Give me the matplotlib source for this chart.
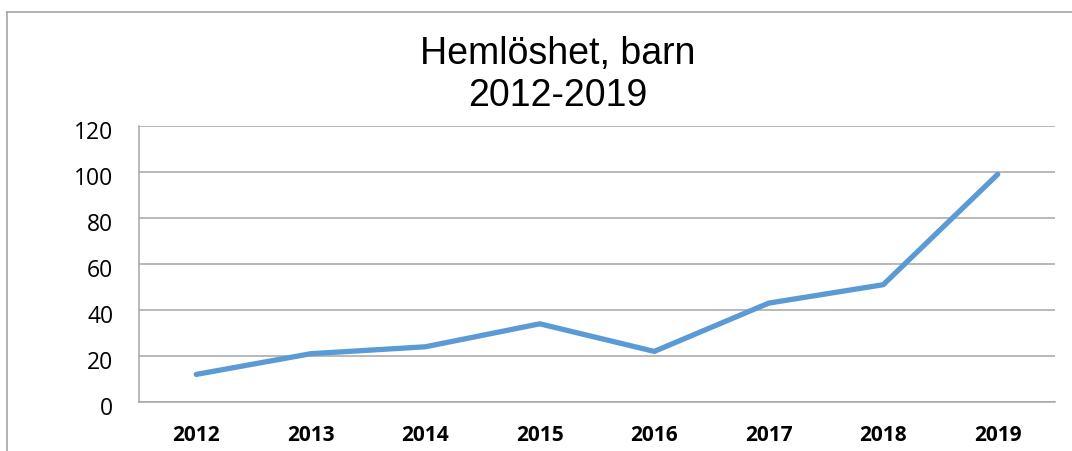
import matplotlib
matplotlib.use("Agg")
import matplotlib.pyplot as plt
import matplotlib.transforms as mtransforms
from matplotlib.lines import Line2D

years = ["2012", "2013", "2014", "2015", "2016", "2017", "2018", "2019"]
values = [12, 21, 24, 34, 22, 43, 51, 99]
yticks = [0, 20, 40, 60, 80, 100, 120]
title = "Hemlöshet, barn\n2012-2019"

W, H = 1072, 452
fig = plt.figure(figsize=(W / 100, H / 100), dpi=100)
fig.patch.set_facecolor("white")

# outer chart frame (partly cut off on right and bottom)
fig.add_artist(Line2D([7 / W, 7 / W], [0, 1 - 13 / H], transform=fig.transFigure,
                      color="#A6A6A6", lw=1.2))
fig.add_artist(Line2D([7 / W, 1], [1 - 13 / H, 1 - 13 / H], transform=fig.transFigure,
                      color="#A6A6A6", lw=1.2))

left, right, bottom, top = 139 / W, 1055 / W, (H - 403) / H, (H - 127) / H
ax = fig.add_axes([left, bottom, right - left, top - bottom])

x = list(range(len(years)))
ax.plot(x, values, color="#5B9BD5", lw=3.8, solid_capstyle="round", solid_joinstyle="round", zorder=3)

ax.set_xlim(-0.5, len(years) - 0.5)
ax.set_ylim(0, 120)
ax.set_yticks(yticks)
ax.set_yticklabels([str(v) for v in yticks], fontsize=16.5, family="Open Sans")
ax.set_xticks(x)
ax.set_xticklabels(years, fontsize=15, fontweight="bold", family="Open Sans")
ax.tick_params(axis="both", length=0)
ax.tick_params(axis="y", pad=18.5)
ax.tick_params(axis="x", pad=16)

offset = mtransforms.ScaledTranslation(0, -3 / 100, fig.dpi_scale_trans)
for lbl in ax.get_yticklabels():
    lbl.set_transform(lbl.get_transform() + offset)

ax.grid(axis="y", color="#A6A6A6", lw=1.1)
ax.set_axisbelow(True)
for s in ["top", "right"]:
    ax.spines[s].set_visible(False)
for s in ["left", "bottom"]:
    ax.spines[s].set_color("#A6A6A6")
    ax.spines[s].set_linewidth(1.1)

fig.text(558 / W, 1 - 75 / H, title, ha="center", va="center", fontsize=27,
         family="Liberation Sans", linespacing=1.2)

fig.savefig("out.png", dpi=100)
